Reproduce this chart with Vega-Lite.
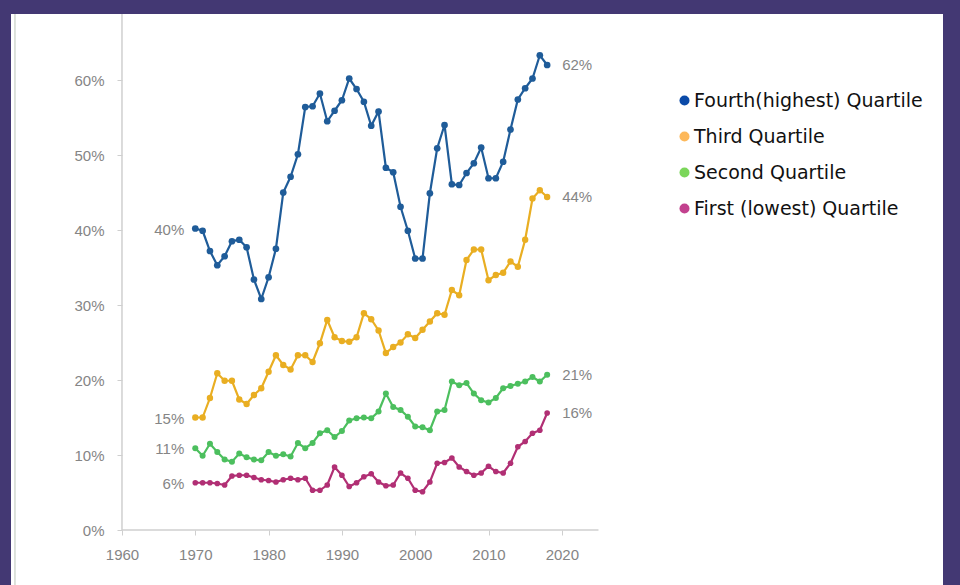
{
  "$schema": "https://vega.github.io/schema/vega-lite/v6.json",
  "autosize": "none",
  "width": 932,
  "height": 571,
  "padding": {"left": 11, "top": 14, "right": 17, "bottom": 0},
  "background": "#433873",
  "config": {
    "view": {"fill": "#ffffff", "stroke": null},
    "font": "Liberation Sans"
  },
  "resolve": {"scale": {"color": "independent"}, "legend": {"color": "independent"}},
  "datasets": {
    "groups": [
      {"group": "Fourth(highest) Quartile"},
      {"group": "Third Quartile"},
      {"group": "Second Quartile"},
      {"group": "First (lowest) Quartile"}
    ],
    "series": [
      {"quartile": "Fourth(highest) Quartile", "year": 1970, "share": 0.402},
      {"quartile": "Fourth(highest) Quartile", "year": 1971, "share": 0.399},
      {"quartile": "Fourth(highest) Quartile", "year": 1972, "share": 0.372},
      {"quartile": "Fourth(highest) Quartile", "year": 1973, "share": 0.353},
      {"quartile": "Fourth(highest) Quartile", "year": 1974, "share": 0.365},
      {"quartile": "Fourth(highest) Quartile", "year": 1975, "share": 0.385},
      {"quartile": "Fourth(highest) Quartile", "year": 1976, "share": 0.387},
      {"quartile": "Fourth(highest) Quartile", "year": 1977, "share": 0.377},
      {"quartile": "Fourth(highest) Quartile", "year": 1978, "share": 0.334},
      {"quartile": "Fourth(highest) Quartile", "year": 1979, "share": 0.308},
      {"quartile": "Fourth(highest) Quartile", "year": 1980, "share": 0.337},
      {"quartile": "Fourth(highest) Quartile", "year": 1981, "share": 0.375},
      {"quartile": "Fourth(highest) Quartile", "year": 1982, "share": 0.450},
      {"quartile": "Fourth(highest) Quartile", "year": 1983, "share": 0.471},
      {"quartile": "Fourth(highest) Quartile", "year": 1984, "share": 0.501},
      {"quartile": "Fourth(highest) Quartile", "year": 1985, "share": 0.564},
      {"quartile": "Fourth(highest) Quartile", "year": 1986, "share": 0.565},
      {"quartile": "Fourth(highest) Quartile", "year": 1987, "share": 0.582},
      {"quartile": "Fourth(highest) Quartile", "year": 1988, "share": 0.545},
      {"quartile": "Fourth(highest) Quartile", "year": 1989, "share": 0.559},
      {"quartile": "Fourth(highest) Quartile", "year": 1990, "share": 0.573},
      {"quartile": "Fourth(highest) Quartile", "year": 1991, "share": 0.602},
      {"quartile": "Fourth(highest) Quartile", "year": 1992, "share": 0.588},
      {"quartile": "Fourth(highest) Quartile", "year": 1993, "share": 0.571},
      {"quartile": "Fourth(highest) Quartile", "year": 1994, "share": 0.539},
      {"quartile": "Fourth(highest) Quartile", "year": 1995, "share": 0.558},
      {"quartile": "Fourth(highest) Quartile", "year": 1996, "share": 0.483},
      {"quartile": "Fourth(highest) Quartile", "year": 1997, "share": 0.477},
      {"quartile": "Fourth(highest) Quartile", "year": 1998, "share": 0.431},
      {"quartile": "Fourth(highest) Quartile", "year": 1999, "share": 0.399},
      {"quartile": "Fourth(highest) Quartile", "year": 2000, "share": 0.362},
      {"quartile": "Fourth(highest) Quartile", "year": 2001, "share": 0.362},
      {"quartile": "Fourth(highest) Quartile", "year": 2002, "share": 0.449},
      {"quartile": "Fourth(highest) Quartile", "year": 2003, "share": 0.509},
      {"quartile": "Fourth(highest) Quartile", "year": 2004, "share": 0.540},
      {"quartile": "Fourth(highest) Quartile", "year": 2005, "share": 0.461},
      {"quartile": "Fourth(highest) Quartile", "year": 2006, "share": 0.460},
      {"quartile": "Fourth(highest) Quartile", "year": 2007, "share": 0.476},
      {"quartile": "Fourth(highest) Quartile", "year": 2008, "share": 0.489},
      {"quartile": "Fourth(highest) Quartile", "year": 2009, "share": 0.510},
      {"quartile": "Fourth(highest) Quartile", "year": 2010, "share": 0.469},
      {"quartile": "Fourth(highest) Quartile", "year": 2011, "share": 0.469},
      {"quartile": "Fourth(highest) Quartile", "year": 2012, "share": 0.491},
      {"quartile": "Fourth(highest) Quartile", "year": 2013, "share": 0.534},
      {"quartile": "Fourth(highest) Quartile", "year": 2014, "share": 0.574},
      {"quartile": "Fourth(highest) Quartile", "year": 2015, "share": 0.589},
      {"quartile": "Fourth(highest) Quartile", "year": 2016, "share": 0.602},
      {"quartile": "Fourth(highest) Quartile", "year": 2017, "share": 0.633},
      {"quartile": "Fourth(highest) Quartile", "year": 2018, "share": 0.620},
      {"quartile": "Third Quartile", "year": 1970, "share": 0.150},
      {"quartile": "Third Quartile", "year": 1971, "share": 0.150},
      {"quartile": "Third Quartile", "year": 1972, "share": 0.176},
      {"quartile": "Third Quartile", "year": 1973, "share": 0.209},
      {"quartile": "Third Quartile", "year": 1974, "share": 0.199},
      {"quartile": "Third Quartile", "year": 1975, "share": 0.199},
      {"quartile": "Third Quartile", "year": 1976, "share": 0.174},
      {"quartile": "Third Quartile", "year": 1977, "share": 0.168},
      {"quartile": "Third Quartile", "year": 1978, "share": 0.180},
      {"quartile": "Third Quartile", "year": 1979, "share": 0.189},
      {"quartile": "Third Quartile", "year": 1980, "share": 0.211},
      {"quartile": "Third Quartile", "year": 1981, "share": 0.233},
      {"quartile": "Third Quartile", "year": 1982, "share": 0.220},
      {"quartile": "Third Quartile", "year": 1983, "share": 0.214},
      {"quartile": "Third Quartile", "year": 1984, "share": 0.233},
      {"quartile": "Third Quartile", "year": 1985, "share": 0.233},
      {"quartile": "Third Quartile", "year": 1986, "share": 0.224},
      {"quartile": "Third Quartile", "year": 1987, "share": 0.249},
      {"quartile": "Third Quartile", "year": 1988, "share": 0.280},
      {"quartile": "Third Quartile", "year": 1989, "share": 0.257},
      {"quartile": "Third Quartile", "year": 1990, "share": 0.252},
      {"quartile": "Third Quartile", "year": 1991, "share": 0.251},
      {"quartile": "Third Quartile", "year": 1992, "share": 0.257},
      {"quartile": "Third Quartile", "year": 1993, "share": 0.289},
      {"quartile": "Third Quartile", "year": 1994, "share": 0.281},
      {"quartile": "Third Quartile", "year": 1995, "share": 0.266},
      {"quartile": "Third Quartile", "year": 1996, "share": 0.236},
      {"quartile": "Third Quartile", "year": 1997, "share": 0.244},
      {"quartile": "Third Quartile", "year": 1998, "share": 0.250},
      {"quartile": "Third Quartile", "year": 1999, "share": 0.261},
      {"quartile": "Third Quartile", "year": 2000, "share": 0.256},
      {"quartile": "Third Quartile", "year": 2001, "share": 0.267},
      {"quartile": "Third Quartile", "year": 2002, "share": 0.278},
      {"quartile": "Third Quartile", "year": 2003, "share": 0.289},
      {"quartile": "Third Quartile", "year": 2004, "share": 0.287},
      {"quartile": "Third Quartile", "year": 2005, "share": 0.320},
      {"quartile": "Third Quartile", "year": 2006, "share": 0.313},
      {"quartile": "Third Quartile", "year": 2007, "share": 0.360},
      {"quartile": "Third Quartile", "year": 2008, "share": 0.374},
      {"quartile": "Third Quartile", "year": 2009, "share": 0.374},
      {"quartile": "Third Quartile", "year": 2010, "share": 0.333},
      {"quartile": "Third Quartile", "year": 2011, "share": 0.340},
      {"quartile": "Third Quartile", "year": 2012, "share": 0.343},
      {"quartile": "Third Quartile", "year": 2013, "share": 0.358},
      {"quartile": "Third Quartile", "year": 2014, "share": 0.351},
      {"quartile": "Third Quartile", "year": 2015, "share": 0.387},
      {"quartile": "Third Quartile", "year": 2016, "share": 0.442},
      {"quartile": "Third Quartile", "year": 2017, "share": 0.453},
      {"quartile": "Third Quartile", "year": 2018, "share": 0.444},
      {"quartile": "Second Quartile", "year": 1970, "share": 0.109},
      {"quartile": "Second Quartile", "year": 1971, "share": 0.099},
      {"quartile": "Second Quartile", "year": 1972, "share": 0.115},
      {"quartile": "Second Quartile", "year": 1973, "share": 0.104},
      {"quartile": "Second Quartile", "year": 1974, "share": 0.094},
      {"quartile": "Second Quartile", "year": 1975, "share": 0.091},
      {"quartile": "Second Quartile", "year": 1976, "share": 0.102},
      {"quartile": "Second Quartile", "year": 1977, "share": 0.097},
      {"quartile": "Second Quartile", "year": 1978, "share": 0.094},
      {"quartile": "Second Quartile", "year": 1979, "share": 0.093},
      {"quartile": "Second Quartile", "year": 1980, "share": 0.104},
      {"quartile": "Second Quartile", "year": 1981, "share": 0.099},
      {"quartile": "Second Quartile", "year": 1982, "share": 0.101},
      {"quartile": "Second Quartile", "year": 1983, "share": 0.098},
      {"quartile": "Second Quartile", "year": 1984, "share": 0.116},
      {"quartile": "Second Quartile", "year": 1985, "share": 0.109},
      {"quartile": "Second Quartile", "year": 1986, "share": 0.116},
      {"quartile": "Second Quartile", "year": 1987, "share": 0.129},
      {"quartile": "Second Quartile", "year": 1988, "share": 0.133},
      {"quartile": "Second Quartile", "year": 1989, "share": 0.124},
      {"quartile": "Second Quartile", "year": 1990, "share": 0.132},
      {"quartile": "Second Quartile", "year": 1991, "share": 0.146},
      {"quartile": "Second Quartile", "year": 1992, "share": 0.149},
      {"quartile": "Second Quartile", "year": 1993, "share": 0.150},
      {"quartile": "Second Quartile", "year": 1994, "share": 0.149},
      {"quartile": "Second Quartile", "year": 1995, "share": 0.158},
      {"quartile": "Second Quartile", "year": 1996, "share": 0.182},
      {"quartile": "Second Quartile", "year": 1997, "share": 0.164},
      {"quartile": "Second Quartile", "year": 1998, "share": 0.160},
      {"quartile": "Second Quartile", "year": 1999, "share": 0.151},
      {"quartile": "Second Quartile", "year": 2000, "share": 0.138},
      {"quartile": "Second Quartile", "year": 2001, "share": 0.137},
      {"quartile": "Second Quartile", "year": 2002, "share": 0.133},
      {"quartile": "Second Quartile", "year": 2003, "share": 0.158},
      {"quartile": "Second Quartile", "year": 2004, "share": 0.160},
      {"quartile": "Second Quartile", "year": 2005, "share": 0.198},
      {"quartile": "Second Quartile", "year": 2006, "share": 0.193},
      {"quartile": "Second Quartile", "year": 2007, "share": 0.196},
      {"quartile": "Second Quartile", "year": 2008, "share": 0.182},
      {"quartile": "Second Quartile", "year": 2009, "share": 0.173},
      {"quartile": "Second Quartile", "year": 2010, "share": 0.170},
      {"quartile": "Second Quartile", "year": 2011, "share": 0.176},
      {"quartile": "Second Quartile", "year": 2012, "share": 0.189},
      {"quartile": "Second Quartile", "year": 2013, "share": 0.192},
      {"quartile": "Second Quartile", "year": 2014, "share": 0.195},
      {"quartile": "Second Quartile", "year": 2015, "share": 0.198},
      {"quartile": "Second Quartile", "year": 2016, "share": 0.204},
      {"quartile": "Second Quartile", "year": 2017, "share": 0.198},
      {"quartile": "Second Quartile", "year": 2018, "share": 0.207},
      {"quartile": "First (lowest) Quartile", "year": 1970, "share": 0.063},
      {"quartile": "First (lowest) Quartile", "year": 1971, "share": 0.063},
      {"quartile": "First (lowest) Quartile", "year": 1972, "share": 0.063},
      {"quartile": "First (lowest) Quartile", "year": 1973, "share": 0.062},
      {"quartile": "First (lowest) Quartile", "year": 1974, "share": 0.060},
      {"quartile": "First (lowest) Quartile", "year": 1975, "share": 0.072},
      {"quartile": "First (lowest) Quartile", "year": 1976, "share": 0.073},
      {"quartile": "First (lowest) Quartile", "year": 1977, "share": 0.073},
      {"quartile": "First (lowest) Quartile", "year": 1978, "share": 0.070},
      {"quartile": "First (lowest) Quartile", "year": 1979, "share": 0.067},
      {"quartile": "First (lowest) Quartile", "year": 1980, "share": 0.066},
      {"quartile": "First (lowest) Quartile", "year": 1981, "share": 0.064},
      {"quartile": "First (lowest) Quartile", "year": 1982, "share": 0.067},
      {"quartile": "First (lowest) Quartile", "year": 1983, "share": 0.069},
      {"quartile": "First (lowest) Quartile", "year": 1984, "share": 0.067},
      {"quartile": "First (lowest) Quartile", "year": 1985, "share": 0.069},
      {"quartile": "First (lowest) Quartile", "year": 1986, "share": 0.053},
      {"quartile": "First (lowest) Quartile", "year": 1987, "share": 0.053},
      {"quartile": "First (lowest) Quartile", "year": 1988, "share": 0.060},
      {"quartile": "First (lowest) Quartile", "year": 1989, "share": 0.084},
      {"quartile": "First (lowest) Quartile", "year": 1990, "share": 0.073},
      {"quartile": "First (lowest) Quartile", "year": 1991, "share": 0.058},
      {"quartile": "First (lowest) Quartile", "year": 1992, "share": 0.063},
      {"quartile": "First (lowest) Quartile", "year": 1993, "share": 0.071},
      {"quartile": "First (lowest) Quartile", "year": 1994, "share": 0.075},
      {"quartile": "First (lowest) Quartile", "year": 1995, "share": 0.064},
      {"quartile": "First (lowest) Quartile", "year": 1996, "share": 0.059},
      {"quartile": "First (lowest) Quartile", "year": 1997, "share": 0.060},
      {"quartile": "First (lowest) Quartile", "year": 1998, "share": 0.076},
      {"quartile": "First (lowest) Quartile", "year": 1999, "share": 0.069},
      {"quartile": "First (lowest) Quartile", "year": 2000, "share": 0.053},
      {"quartile": "First (lowest) Quartile", "year": 2001, "share": 0.051},
      {"quartile": "First (lowest) Quartile", "year": 2002, "share": 0.064},
      {"quartile": "First (lowest) Quartile", "year": 2003, "share": 0.089},
      {"quartile": "First (lowest) Quartile", "year": 2004, "share": 0.090},
      {"quartile": "First (lowest) Quartile", "year": 2005, "share": 0.096},
      {"quartile": "First (lowest) Quartile", "year": 2006, "share": 0.084},
      {"quartile": "First (lowest) Quartile", "year": 2007, "share": 0.078},
      {"quartile": "First (lowest) Quartile", "year": 2008, "share": 0.073},
      {"quartile": "First (lowest) Quartile", "year": 2009, "share": 0.076},
      {"quartile": "First (lowest) Quartile", "year": 2010, "share": 0.085},
      {"quartile": "First (lowest) Quartile", "year": 2011, "share": 0.078},
      {"quartile": "First (lowest) Quartile", "year": 2012, "share": 0.076},
      {"quartile": "First (lowest) Quartile", "year": 2013, "share": 0.089},
      {"quartile": "First (lowest) Quartile", "year": 2014, "share": 0.111},
      {"quartile": "First (lowest) Quartile", "year": 2015, "share": 0.118},
      {"quartile": "First (lowest) Quartile", "year": 2016, "share": 0.129},
      {"quartile": "First (lowest) Quartile", "year": 2017, "share": 0.133},
      {"quartile": "First (lowest) Quartile", "year": 2018, "share": 0.156}
    ]
  },
  "layer": [
    {
      "data": {"values": [{}]},
      "mark": {"type": "rule", "color": "#d2d8d0", "strokeWidth": 1.5},
      "encoding": {
        "x": {"datum": 1945.4, "type": "quantitative", "scale": {"domain": [1944.86, 2072.0], "nice": false, "zero": false}},
        "y": {"datum": -0.0733, "type": "quantitative", "scale": {"domain": [-0.0733, 0.688], "nice": false, "zero": false}},
        "y2": {"datum": 0.688}
      }
    },
    {
      "data": {"values": [{}]},
      "mark": {"type": "rule", "color": "#cfcfcf", "strokeWidth": 1.5},
      "encoding": {
        "x": {"datum": 1960, "type": "quantitative"},
        "y": {"datum": 0, "type": "quantitative"},
        "y2": {"datum": 0.688}
      }
    },
    {
      "data": {"values": [{}]},
      "mark": {"type": "rule", "color": "#cfcfcf", "strokeWidth": 1.5},
      "encoding": {
        "x": {"datum": 1960, "type": "quantitative"},
        "x2": {"datum": 2025},
        "y": {"datum": 0, "type": "quantitative"}
      }
    },
    {
      "data": {"name": "series"},
      "mark": {"type": "line", "strokeWidth": 2.2},
      "encoding": {
        "x": {
          "field": "year", "type": "quantitative",
          "axis": {
            "title": null, "values": [1960, 1970, 1980, 1990, 2000, 2010, 2020], "format": "d",
            "offset": -55, "domain": false, "grid": false, "tickSize": 5, "tickColor": "#cfcfcf",
            "labelPadding": 12, "labelFontSize": 15, "labelColor": "#858585", "labelFont": "Liberation Sans"
          }
        },
        "y": {
          "field": "share", "type": "quantitative",
          "axis": {
            "title": null, "values": [0, 0.1, 0.2, 0.3, 0.4, 0.5, 0.6], "format": ".0%",
            "offset": -111, "domain": false, "grid": false, "tickSize": 5, "tickColor": "#cfcfcf",
            "labelPadding": 13, "labelFontSize": 15, "labelColor": "#858585", "labelFont": "Liberation Sans"
          }
        },
        "color": {
          "field": "quartile", "type": "nominal",
          "scale": {
            "domain": ["Fourth(highest) Quartile", "Third Quartile", "Second Quartile", "First (lowest) Quartile"],
            "range": ["#1f5c99", "#e9ae22", "#4cbf5e", "#b12f74"]
          },
          "legend": null
        }
      }
    },
    {
      "data": {"name": "series"},
      "mark": {"type": "point", "filled": true, "opacity": 1},
      "encoding": {
        "x": {"field": "year", "type": "quantitative"},
        "y": {"field": "share", "type": "quantitative"},
        "size": {
          "field": "quartile", "type": "nominal", "legend": null,
          "scale": {
            "domain": ["Fourth(highest) Quartile", "Third Quartile", "Second Quartile", "First (lowest) Quartile"],
            "range": [45, 32, 18, 18]
          }
        },
        "color": {
          "field": "quartile", "type": "nominal", "legend": null,
          "scale": {
            "domain": ["Fourth(highest) Quartile", "Third Quartile", "Second Quartile", "First (lowest) Quartile"],
            "range": ["#1f5c99", "#e9ae22", "#4cbf5e", "#b12f74"]
          }
        }
      }
    },
    {
      "data": {"name": "groups"},
      "mark": {"type": "point", "filled": true, "opacity": 0},
      "encoding": {
        "x": {"datum": 1990, "type": "quantitative"},
        "y": {"datum": 0.3, "type": "quantitative"},
        "color": {
          "field": "group", "type": "nominal",
          "scale": {
            "domain": ["Fourth(highest) Quartile", "Third Quartile", "Second Quartile", "First (lowest) Quartile"],
            "range": ["#0b4aa8", "#fdb85a", "#7bd65a", "#c2418e"]
          },
          "legend": {
            "title": null, "orient": "none", "legendX": 664, "legendY": 77,
            "symbolType": "circle", "symbolSize": 100, "symbolStrokeWidth": 0, "symbolOpacity": 1,
            "labelFont": "DejaVu Sans", "labelFontSize": 19, "labelColor": "#111111",
            "labelOffset": 0, "rowPadding": 16, "labelLimit": 320
          }
        }
      }
    },
    {
      "data": {"name": "series"},
      "transform": [{"filter": "datum.year === 1970"}],
      "mark": {"type": "text", "align": "right", "baseline": "middle", "dx": -11, "dy": 1, "fontSize": 15, "font": "Liberation Sans", "color": "#858585"},
      "encoding": {
        "x": {"field": "year", "type": "quantitative"},
        "y": {"field": "share", "type": "quantitative"},
        "text": {"field": "share", "type": "quantitative", "format": ".0%"}
      }
    },
    {
      "data": {"name": "series"},
      "transform": [{"filter": "datum.year === 2018"}],
      "mark": {"type": "text", "align": "left", "baseline": "middle", "dx": 15, "dy": 0, "fontSize": 15, "font": "Liberation Sans", "color": "#858585"},
      "encoding": {
        "x": {"field": "year", "type": "quantitative"},
        "y": {"field": "share", "type": "quantitative"},
        "text": {"field": "share", "type": "quantitative", "format": ".0%"}
      }
    }
  ]
}
